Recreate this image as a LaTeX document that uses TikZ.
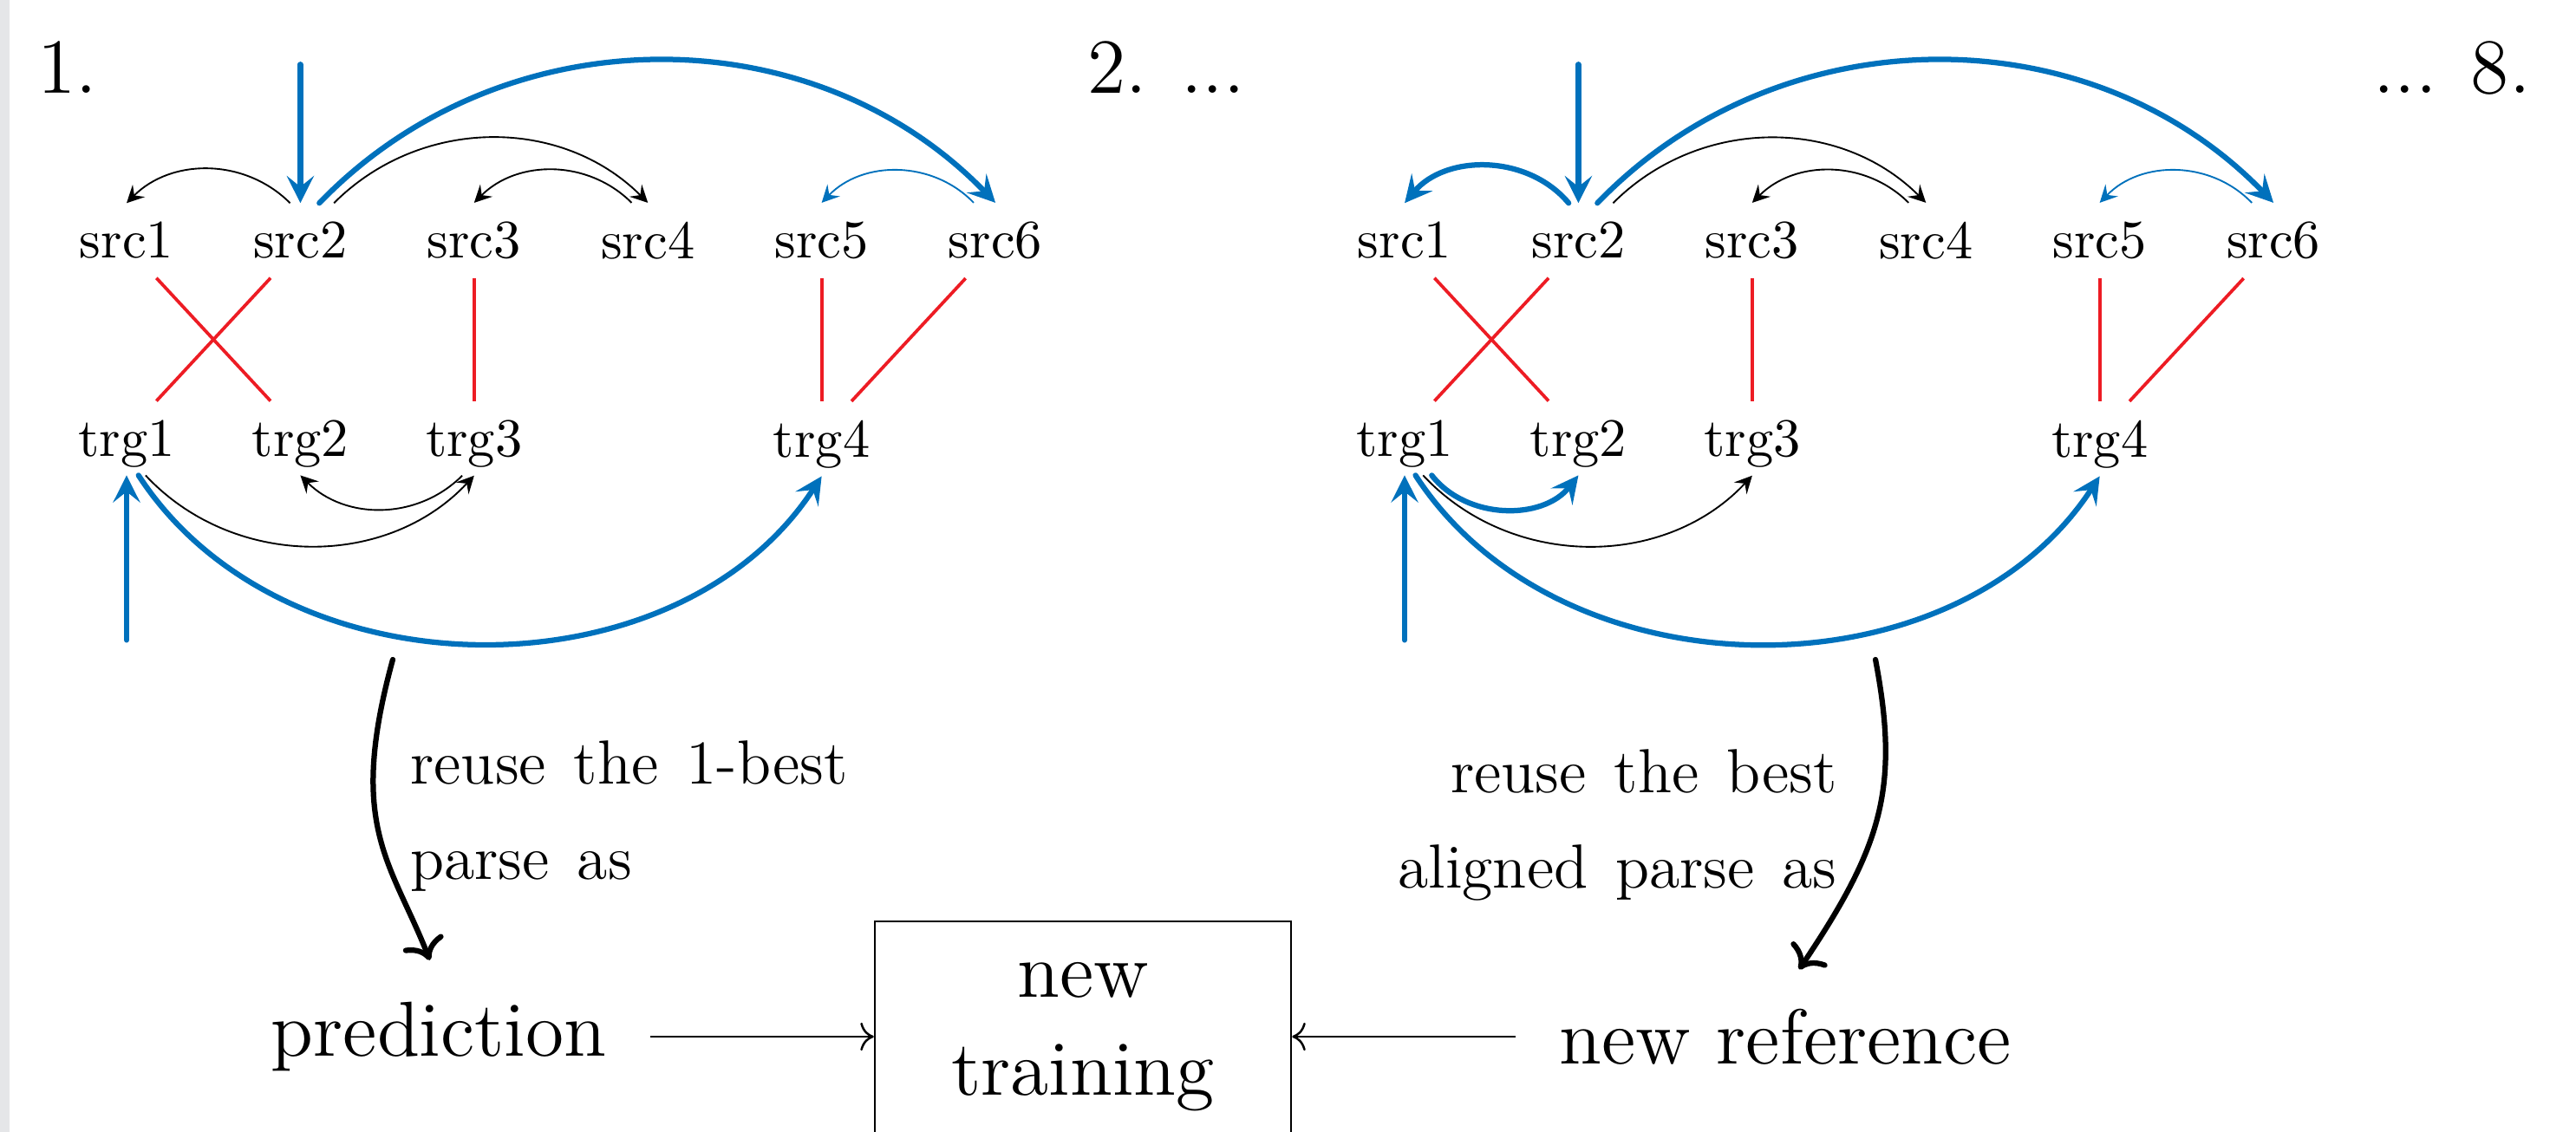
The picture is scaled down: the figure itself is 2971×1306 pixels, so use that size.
\documentclass[tikz,border=0pt]{standalone}
\usepackage{tikz}
\usepackage{xcolor}
\usetikzlibrary{arrows, arrows.meta, positioning}
\definecolor{depblue}{RGB}{0,113,188}
\definecolor{alignred}{RGB}{237,28,36}
\definecolor{stripgray}{RGB}{229,230,232}
\tikzstyle{stepnum} = [font=\Large, anchor=base]
\tikzstyle{trgword} = [text depth=0pt]
\tikzstyle{bignode} = [font=\Large]
\tikzstyle{process} = [rectangle, draw=black, font=\Large, align=center,
minimum width=76.8pt, inner ysep=7.6pt]
\tikzstyle{note} = [inner sep=0pt,
font={\fontsize{11.5}{17.6}\selectfont\spaceskip=5.1pt}]
\tikzstyle{alignline} = [alignred, line width=0.6pt]
\tikzstyle{deparc} = [line width=0.3pt,
-{Stealth[length=3.2pt, width=3.2pt, inset=1.2pt]}]
\tikzstyle{bluearc} = [deparc, depblue]
\tikzstyle{bestarc} = [depblue, line width=1pt, line cap=round,
-{Stealth[length=5pt, width=5pt, inset=2pt]}]
\tikzstyle{bigarrow} = [line width=1pt, line cap=round, ->, shorten >=4.5pt]
\tikzstyle{arrow} = [->, shorten <=4.5pt]

\begin{document}
\begin{tikzpicture}[x=0.16pt, y=0.16pt, node distance=7.7pt]
        \useasboundingbox (0,0) rectangle (2971,1306);
        \fill [stripgray] (0,0) rectangle (11,1306);

        % --- Numeración ---
        \node (step1) [stepnum] at (78,1198) {1.};
        \node (step2) [stepnum] at (1345,1198) {2. ...};
        \node (step8) [stepnum] at (2828,1198) {... 8.};

        % --- Paso 1: palabras ---
        \node (ls1) [anchor=base] at (146,1008) {src1};
        \node (ls2) [right=of ls1] {src2};
        \node (ls3) [right=of ls2] {src3};
        \node (ls4) [right=of ls3] {src4};
        \node (ls5) [right=of ls4] {src5};
        \node (ls6) [right=of ls5] {src6};
        \node (lt1) [trgword, below=22.7pt of ls1] {trg1};
        \node (lt2) [trgword, below=22.7pt of ls2] {trg2};
        \node (lt3) [trgword, below=22.7pt of ls3] {trg3};
        \node (lt4) [trgword, below=22.7pt of ls5] {trg4};

        % --- Paso 8: palabras ---
        \node (rs1) [anchor=base] at (1620,1008) {src1};
        \node (rs2) [right=of rs1] {src2};
        \node (rs3) [right=of rs2] {src3};
        \node (rs4) [right=of rs3] {src4};
        \node (rs5) [right=of rs4] {src5};
        \node (rs6) [right=of rs5] {src6};
        \node (rt1) [trgword, below=22.7pt of rs1] {trg1};
        \node (rt2) [trgword, below=22.7pt of rs2] {trg2};
        \node (rt3) [trgword, below=22.7pt of rs3] {trg3};
        \node (rt4) [trgword, below=22.7pt of rs5] {trg4};

        % --- Alineamientos ---
        \draw [alignline] ([xshift=5.5pt]ls1.south) -- ([xshift=-5.5pt]lt2.north);
        \draw [alignline] ([xshift=-5.5pt]ls2.south) -- ([xshift=5.5pt]lt1.north);
        \draw [alignline] (ls3.south) -- (lt3.north);
        \draw [alignline] (ls5.south) -- (lt4.north);
        \draw [alignline] ([xshift=-5.5pt]ls6.south) -- ([xshift=5.5pt]lt4.north);
        \draw [alignline] ([xshift=5.5pt]rs1.south) -- ([xshift=-5.5pt]rt2.north);
        \draw [alignline] ([xshift=-5.5pt]rs2.south) -- ([xshift=5.5pt]rt1.north);
        \draw [alignline] (rs3.south) -- (rt3.north);
        \draw [alignline] (rs5.south) -- (rt4.north);
        \draw [alignline] ([xshift=-5.5pt]rs6.south) -- ([xshift=5.5pt]rt4.north);

        % --- Dependencias, paso 1 ---
        \draw [bestarc] ([yshift=25.6pt]ls2.north) -- (ls2.north);
        \draw [deparc] ([xshift=-1.9pt]ls2.north) to[out=135, in=45] (ls1.north);
        \draw [deparc] ([xshift=6.2pt]ls2.north) to[out=45, in=135] (ls4.north);
        \draw [deparc] ([xshift=-3pt]ls4.north) to[out=135, in=45] (ls3.north);
        \draw [bluearc] ([xshift=-4pt]ls6.north) to[out=134, in=46] (ls5.north);
        \draw [bestarc] ([xshift=3.5pt]ls2.north) to[out=46, in=134] (ls6.north);
        \draw [bestarc] ([yshift=-30.4pt]lt1.south) -- (lt1.south);
        \draw [deparc] ([xshift=3.5pt]lt1.south) to[out=-47, in=-133] (lt3.south);
        \draw [deparc] ([xshift=-2.2pt]lt3.south) to[out=-135, in=-45] (lt2.south);
        \draw [bestarc] ([xshift=2.2pt]lt1.south) to[out=-57, in=-123] (lt4.south);

        % --- Dependencias, paso 8 ---
        \draw [bestarc] ([yshift=25.6pt]rs2.north) -- (rs2.north);
        \draw [bestarc] ([xshift=-1.8pt]rs2.north) to[out=130, in=50] (rs1.north);
        \draw [deparc] ([xshift=6.4pt]rs2.north) to[out=45, in=135] (rs4.north);
        \draw [deparc] ([xshift=-3.2pt]rs4.north) to[out=135, in=45] (rs3.north);
        \draw [bluearc] ([xshift=-4pt]rs6.north) to[out=134, in=46] (rs5.north);
        \draw [bestarc] ([xshift=3.5pt]rs2.north) to[out=46, in=134] (rs6.north);
        \draw [bestarc] ([yshift=-30.4pt]rt1.south) -- (rt1.south);
        \draw [bestarc] ([xshift=5pt]rt1.south) to[out=-52, in=-128] (rt2.south);
        \draw [deparc] ([xshift=3.4pt]rt1.south) to[out=-47, in=-133] (rt3.south);
        \draw [bestarc] ([xshift=2pt]rt1.south) to[out=-57, in=-123] (rt4.south);

        % --- Reentrenamiento ---
        \node (train) [process] at (1249,110) {new\\training};
        \node (pred) [bignode, left=45.8pt of train] {prediction};
        \node (newref) [bignode, right=45.8pt of train] {new reference};
        \draw [arrow] (pred) -- (train);
        \draw [arrow] (newref) -- (train);

        \node (lnote) [note, align=left, anchor=north west] at (472,453) {reuse the 1-best\\parse as};
        \node (rnote) [note, align=right, anchor=north east] at (2120,443) {reuse the best\\aligned parse as};
        \coordinate (lreuse) at (453,545);
        \coordinate (rreuse) at (2163,545);
        \draw [bigarrow] (lreuse) .. controls +(-53,-193) and +(-55,140) .. (pred.north);
        \draw [bigarrow] (rreuse) .. controls +(28,-147) and +(112,166) .. (newref.north);

\end{tikzpicture}
\end{document}
